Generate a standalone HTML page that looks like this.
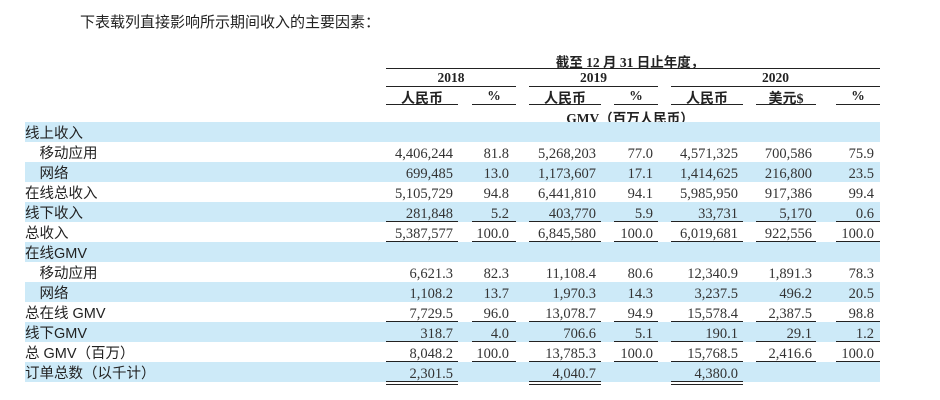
<!DOCTYPE html>
<html><head><meta charset="utf-8">
<style>
body{margin:0;width:940px;height:400px;background:#fff;position:relative;overflow:hidden;font-family:"Liberation Serif","Noto Serif CJK SC",serif;color:#222}
.a{position:absolute;white-space:nowrap}
.band{position:absolute;left:25px;width:855px;height:20px;background:#cdeaf8}
.lab{position:absolute;font-family:"Liberation Sans","Noto Sans CJK SC",sans-serif;font-size:14.5px;line-height:20px;color:#222}
.num{position:absolute;font-size:14.5px;line-height:20px;text-align:right;color:#333}
.hl{position:absolute;height:1px;background:#222}
.hd{position:absolute;font-weight:bold;font-size:13.5px;text-align:center;font-family:"Liberation Serif","Noto Sans CJK SC",serif}
</style></head>
<body>
<div class="a" style="left:80px;top:11px;font-family:'Liberation Sans','Noto Sans CJK SC',sans-serif;font-size:15px">下表载列直接影响所示期间收入的主要因素：</div>
<div class="hd" style="left:540px;width:180px;top:51px">截至 12 月 31 日止年度，</div>
<div class="hl" style="left:386px;width:494px;top:68px"></div>
<div class="hd" style="left:386px;width:130px;top:70px">2018</div>
<div class="hd" style="left:529px;width:129px;top:70px">2019</div>
<div class="hd" style="left:671px;width:209px;top:70px">2020</div>
<div class="hl" style="left:386px;width:130px;top:86px"></div>
<div class="hl" style="left:529px;width:129px;top:86px"></div>
<div class="hl" style="left:671px;width:209px;top:86px"></div>
<div class="hd" style="left:386px;width:72px;top:88px;font-size:14px">人民币</div>
<div class="hd" style="left:472px;width:44px;top:88px">%</div>
<div class="hd" style="left:529px;width:72px;top:88px;font-size:14px">人民币</div>
<div class="hd" style="left:614px;width:44px;top:88px">%</div>
<div class="hd" style="left:671px;width:72px;top:88px;font-size:14px">人民币</div>
<div class="hd" style="left:756px;width:60px;top:88px;font-size:14px">美元$</div>
<div class="hd" style="left:836px;width:44px;top:88px">%</div>
<div class="hl" style="left:386px;width:72px;top:104px"></div>
<div class="hl" style="left:472px;width:44px;top:104px"></div>
<div class="hl" style="left:529px;width:72px;top:104px"></div>
<div class="hl" style="left:614px;width:44px;top:104px"></div>
<div class="hl" style="left:671px;width:72px;top:104px"></div>
<div class="hl" style="left:756px;width:60px;top:104px"></div>
<div class="hl" style="left:836px;width:44px;top:104px"></div>
<div class="hd" style="left:560px;width:140px;top:107px">GMV（百万人民币）</div>
<div id="t"></div>
<script>
const labels=["线上收入","　移动应用","　网络","在线总收入","线下收入","总收入","在线GMV","　移动应用","　网络","总在线 GMV","线下GMV","总 GMV（百万）","订单总数（以千计）"];
const values=[
[],
["4,406,244","81.8","5,268,203","77.0","4,571,325","700,586","75.9"],
["699,485","13.0","1,173,607","17.1","1,414,625","216,800","23.5"],
["5,105,729","94.8","6,441,810","94.1","5,985,950","917,386","99.4"],
["281,848","5.2","403,770","5.9","33,731","5,170","0.6"],
["5,387,577","100.0","6,845,580","100.0","6,019,681","922,556","100.0"],
[],
["6,621.3","82.3","11,108.4","80.6","12,340.9","1,891.3","78.3"],
["1,108.2","13.7","1,970.3","14.3","3,237.5","496.2","20.5"],
["7,729.5","96.0","13,078.7","94.9","15,578.4","2,387.5","98.8"],
["318.7","4.0","706.6","5.1","190.1","29.1","1.2"],
["8,048.2","100.0","13,785.3","100.0","15,768.5","2,416.6","100.0"],
["2,301.5","","4,040.7","","4,380.0","",""]];
const rules=[0,0,0,0,1,2,0,0,0,1,1,2,2];
const colL=[386,472,529,614,671,756,836],colW=[72,44,72,44,72,60,44],colR=[453,509,596,653,738,812,874];
const t=document.getElementById('t');
labels.forEach((lb,i)=>{
 const y=122+i*20;
 if(i%2===0){const b=document.createElement('div');b.className='band';b.style.top=y+'px';
 
 t.appendChild(b);}
 const l=document.createElement('div');l.className='lab';l.style.left='25px';l.style.top=(y+2)+'px';l.textContent=lb;
 
 t.appendChild(l);
 values[i].forEach((v,j)=>{
  if(!v)return;
  const n=document.createElement('div');n.className='num';n.style.left=(colR[j]-100)+'px';n.style.width='100px';n.style.top=(y+2)+'px';n.textContent=v;
  
  t.appendChild(n);
  if(rules[i]){
   const r=document.createElement('div');r.className='hl';r.style.left=colL[j]+'px';r.style.width=colW[j]+'px';r.style.top=(y+19)+'px';
   
   t.appendChild(r);
   if(rules[i]===2){const r2=r.cloneNode();r2.style.top=(y+22)+'px';t.appendChild(r2);}
  }
 });
});
</script>
</body></html>
